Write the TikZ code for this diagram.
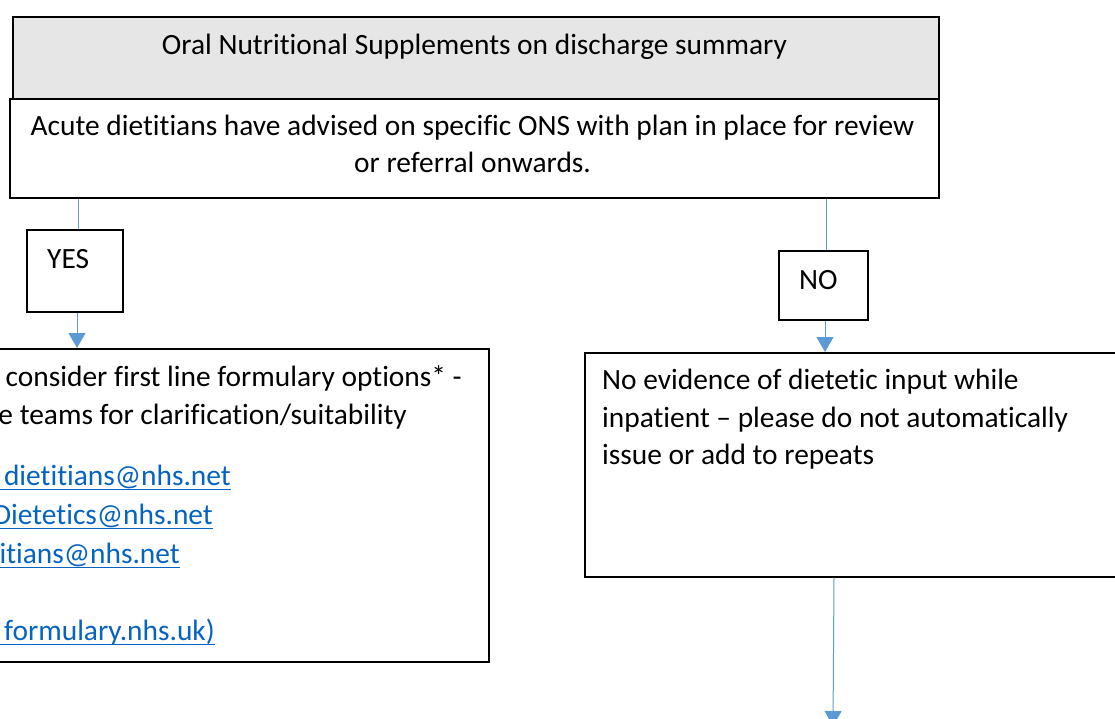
\documentclass[tikz,border=0pt]{standalone}
\usepackage{fontspec}
\setmainfont[Ligatures={NoCommon}]{Carlito}
\usetikzlibrary{arrows.meta}
\definecolor{boxgray}{HTML}{E6E6E6}
\definecolor{connblue}{HTML}{5B9BD5}
\definecolor{linkblue}{HTML}{0563C1}
\newcommand{\ulnk}[1]{\setbox0\hbox{#1}\rlap{\hspace{-30pt}\rule[-5pt]{\dimexpr\wd0+30pt\relax}{1.3pt}}\box0}
\tikzset{
  boxnode/.style={draw=black, line width=1.6pt, rectangle, inner sep=0pt, anchor=north west},
  conn/.style={draw=connblue, line width=1pt},
  arr/.style={conn, -{Triangle[width=17pt,length=15pt]}, connblue},
  txt/.style={inner sep=0pt, font=\fontsize{29.4}{37}\selectfont},
  lnk/.style={txt, text=linkblue, anchor=base east},
}
\begin{document}
\begin{tikzpicture}[x=1pt,y=-1pt]
\useasboundingbox (0,0) rectangle (1115,719);
\clip (0,0) rectangle (1115,719);
% boxes
\node[boxnode, fill=boxgray, minimum width=926pt, minimum height=82pt] (title) at (12,16) {};
\node[boxnode, fill=white, minimum width=929pt, minimum height=99pt] (acute) at (9,98) {};
\node[boxnode, minimum width=96pt, minimum height=82pt] (yes) at (26,229) {};
\node[boxnode, minimum width=89pt, minimum height=69pt] (no) at (778,250) {};
\node[boxnode, minimum width=908pt, minimum height=313pt] (left) at (-420,348) {};
\node[boxnode, minimum width=560pt, minimum height=224pt] (right) at (584,352) {};
% texts
\node[txt, anchor=base] (t1) at (474.5,55) {Oral Nutritional Supplements on discharge summary};
\node[txt, anchor=base] (t2) at (472.5,136) {Acute dietitians have advised on specific ONS with plan in place for review};
\node[txt, anchor=base] (t3) at (472.5,173) {or referral onwards.};
\node[txt, anchor=base west] (tyes) at (47,268) {YES};
\node[txt, anchor=base west] (tno) at (799,289) {NO};
\node[txt, anchor=base east] (l1) at (462,386) {consider first line formulary options* -};
\node[txt, anchor=base east] (l2) at (407,424) {e teams for clarification/suitability};
\node[lnk] (l3) at (231,485) {\ulnk{dietitians@nhs.net}};
\node[lnk] (l4) at (213,524) {\ulnk{Dietetics@nhs.net}};
\node[lnk] (l5) at (180,563) {\ulnk{itians@nhs.net}};
\node[lnk] (l6) at (215,640) {\ulnk{formulary.nhs.uk)}};
\node[txt, anchor=base west] (r1) at (602,389) {No evidence of dietetic input while};
\node[txt, anchor=base west] (r2) at (602,427) {inpatient – please do not automatically};
\node[txt, anchor=base west] (r3) at (602,464) {issue or add to repeats};
% connectors
\coordinate (xa) at (78,0);
\coordinate (xb) at (77,0);
\coordinate (xc) at (826,0);
\coordinate (xd) at (825,0);
\coordinate (xe) at (834,0);
\coordinate (endpt) at (833,726);
\draw[conn] (acute.south -| xa) -- (yes.north -| xa);
\draw[arr] (yes.south -| xb) -- (left.north -| xb);
\draw[conn] (acute.south -| xc) -- (no.north -| xc);
\draw[arr] (no.south -| xd) -- (right.north -| xd);
\draw[arr] (right.south -| xe) -- (endpt);
\end{tikzpicture}
\end{document}
